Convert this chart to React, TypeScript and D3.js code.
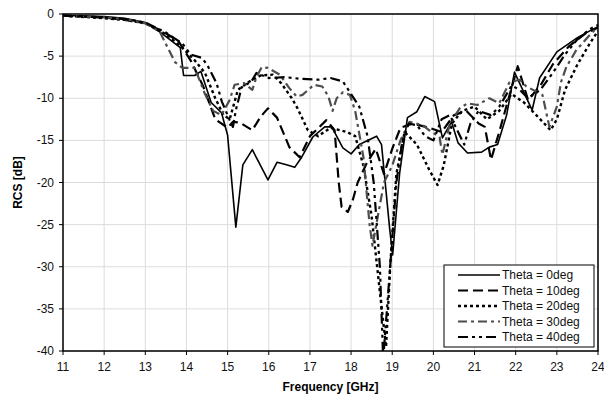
import React from "react";
import * as d3 from "d3";

type P = [number, number];

const xTicks = [11, 12, 13, 14, 15, 16, 17, 18, 19, 20, 21, 22, 23, 24];
const yTicks = [0, -5, -10, -15, -20, -25, -30, -35, -40];

const theta0: P[] = [[11,-0.2],[11.5,-0.2],[12,-0.3],[12.5,-0.5],[13,-1.0],[13.4,-2.3],[13.85,-4],[13.93,-7.3],[14.2,-7.3],[14.35,-6.8],[14.6,-10.5],[14.85,-11.7],[15.0,-14.4],[15.2,-25.3],[15.37,-17.9],[15.6,-16.1],[15.98,-19.7],[16.2,-17.6],[16.43,-17.9],[16.63,-18.2],[16.8,-17],[17.07,-14.6],[17.36,-13.4],[17.53,-13.4],[17.8,-15.9],[18.0,-16.6],[18.2,-15.5],[18.62,-14.5],[18.74,-15.5],[18.94,-25.6],[19.01,-28.6],[19.18,-18.9],[19.37,-12.3],[19.6,-11.6],[19.79,-9.8],[20.03,-10.4],[20.22,-14.7],[20.44,-12.8],[20.6,-15.3],[20.83,-16.5],[21.17,-16.4],[21.36,-15.8],[21.56,-15.5],[21.78,-12],[21.97,-6.9],[22.4,-11.4],[22.58,-7.6],[23,-4.5],[23.5,-2.8],[23.8,-2],[24,-1.5]];

const theta10: P[] = [[11,-0.2],[12,-0.4],[12.5,-0.7],[13,-1.1],[13.4,-2.0],[13.8,-3.2],[14.1,-5.5],[14.4,-8.5],[14.7,-12.5],[15.0,-13.5],[15.13,-12.8],[15.3,-12.9],[15.6,-13.8],[15.8,-12.2],[15.98,-11.2],[16.2,-12.3],[16.5,-15.8],[16.75,-17],[17.0,-14.5],[17.4,-12.6],[17.6,-13.8],[17.7,-20],[17.77,-22.9],[17.92,-23.5],[18.04,-22.1],[18.16,-20],[18.38,-17.7],[18.6,-16],[18.8,-19],[19.0,-16],[19.2,-13.5],[19.5,-13],[19.9,-13.5],[20.2,-14],[20.5,-12],[20.8,-11.5],[21.1,-13],[21.25,-13.4],[21.4,-17.3],[21.6,-14],[21.8,-10.5],[22.05,-6.2],[22.3,-10.2],[22.6,-8.5],[22.9,-6],[23.3,-3.8],[23.7,-2.3],[24,-1.6]];

const theta20: P[] = [[11,-0.2],[12,-0.5],[12.5,-0.7],[13,-1.1],[13.5,-2.4],[13.9,-4],[14.2,-5.5],[14.45,-7],[14.7,-10],[14.9,-12],[15.05,-12.5],[15.25,-9],[15.5,-8.1],[15.8,-7.3],[16.1,-7.2],[16.3,-8.2],[16.56,-10],[16.7,-11.2],[16.95,-13.8],[17.2,-14.5],[17.5,-13.5],[17.9,-14],[18.1,-14.5],[18.3,-18],[18.5,-24],[18.7,-33],[18.85,-39.5],[18.95,-30],[19.1,-19],[19.3,-14],[19.6,-15.5],[19.9,-18.5],[20.1,-20.3],[20.25,-18],[20.45,-13],[20.7,-11.5],[21.0,-11],[21.3,-12.5],[21.6,-11.5],[21.9,-9.5],[22.2,-10.5],[22.5,-12],[22.85,-13.8],[23.0,-12.5],[23.2,-9],[23.5,-6],[23.8,-3.5],[24,-2]];

const theta30: P[] = [[11,-0.2],[12,-0.4],[12.5,-0.6],[13,-1.1],[13.35,-2.1],[13.72,-5.7],[13.9,-6.4],[14.2,-6.4],[14.45,-9.5],[14.65,-11.5],[14.85,-12],[15.05,-10.2],[15.17,-8.4],[15.4,-8.2],[15.6,-9],[15.7,-7.5],[15.83,-6.3],[15.98,-6.4],[16.27,-7.2],[16.5,-8.8],[16.68,-9.8],[16.82,-9.6],[17.1,-8.4],[17.3,-8.6],[17.45,-9.8],[17.55,-11.5],[17.65,-10],[17.8,-9.3],[17.97,-9.6],[18.1,-11.5],[18.3,-17],[18.45,-25],[18.52,-27.5],[18.65,-24],[18.8,-20],[19.0,-18],[19.2,-15],[19.42,-12.8],[19.74,-13.2],[19.9,-13.8],[20.15,-14.6],[20.22,-16.7],[20.4,-13],[20.64,-11.2],[20.83,-10.6],[21.07,-10.8],[21.36,-10],[21.6,-10.6],[21.85,-8.1],[22.1,-7.8],[22.26,-8.6],[22.65,-9.6],[22.77,-12.3],[22.82,-13.4],[23.0,-11],[23.1,-8.1],[23.23,-6.3],[23.47,-4.3],[23.8,-2.5],[24,-1.5]];

const theta40: P[] = [[11,-0.2],[12,-0.4],[12.5,-0.6],[13,-1],[13.5,-2.2],[13.9,-3.5],[14.1,-4.8],[14.37,-5.2],[14.5,-6],[14.73,-8.2],[14.86,-10.4],[15.05,-12.6],[15.13,-13.4],[15.2,-11.4],[15.34,-8.7],[15.58,-8],[15.7,-7],[16.0,-7.6],[16.4,-7.5],[16.8,-7.7],[17.2,-7.8],[17.5,-7.6],[17.8,-8],[18.0,-9.5],[18.2,-11],[18.4,-14.5],[18.55,-20],[18.7,-30],[18.78,-41],[18.95,-30],[19.1,-20],[19.25,-15],[19.4,-13],[19.6,-13.2],[19.8,-14.5],[20.0,-15],[20.2,-12.5],[20.4,-12],[20.6,-14],[20.75,-15.5],[20.9,-13],[21.1,-11.5],[21.4,-12],[21.6,-11],[21.9,-8.5],[22.1,-9],[22.3,-10],[22.6,-9],[22.9,-7],[23.2,-4.8],[23.5,-3],[23.8,-1.8],[24,-1.3]];

const seriesNames = ["Theta = 0deg", "Theta = 10deg", "Theta = 20deg", "Theta = 30deg", "Theta = 40deg"];
const seriesData = [theta0, theta10, theta20, theta30, theta40];
const styles = [
  { color: "#000", width: 1.6, dash: "" },
  { color: "#000", width: 2.2, dash: "10,5" },
  { color: "#000", width: 2.4, dash: "3,3" },
  { color: "#4d4d4d", width: 2.2, dash: "9,4,3,4" },
  { color: "#000", width: 2.2, dash: "10,4,3,4,3,4" },
];

export default function App() {
  const W = 604, H = 401;
  const L = 63, R = 598, T = 14, B = 351;
  const x = d3.scaleLinear().domain([11, 24]).range([L, R]);
  const y = d3.scaleLinear().domain([-40, 0]).range([B, T]);
  const line = d3.line<P>().x(d => x(d[0])).y(d => y(d[1]));
  const font = "'Liberation Sans', Arial, sans-serif";
  const lx = 444, ly = 265, lw = 150, lh = 82;
  return (
    <svg width={W} height={H} style={{ position: "absolute", left: 0, top: 0, background: "#fff" }} fontFamily={font}>
      <defs>
        <clipPath id="plot"><rect x={L} y={T} width={R - L} height={B - T} /></clipPath>
      </defs>
      <rect x={0} y={0} width={W} height={H} fill="#fff" />
      {xTicks.map(t => <line key={"gx" + t} x1={x(t)} x2={x(t)} y1={T} y2={B} stroke="#dcdcdc" strokeWidth={1} />)}
      {yTicks.map(t => <line key={"gy" + t} x1={L} x2={R} y1={y(t)} y2={y(t)} stroke="#dcdcdc" strokeWidth={1} />)}
      <g clipPath="url(#plot)">
        {seriesData.map((s, i) => (
          <path key={i} d={line(s) || ""} fill="none" stroke={styles[i].color} strokeWidth={styles[i].width}
            strokeDasharray={styles[i].dash || undefined} strokeLinejoin="round" />
        ))}
      </g>
      <rect x={L} y={T} width={R - L} height={B - T} fill="none" stroke="#000" strokeWidth={1.5} />
      {xTicks.map(t => (
        <g key={"xt" + t}>
          <line x1={x(t)} x2={x(t)} y1={B} y2={B + 4} stroke="#000" />
          <text x={x(t)} y={B + 20} fontSize={12} textAnchor="middle" fill="#111">{t}</text>
        </g>
      ))}
      {yTicks.map(t => (
        <g key={"yt" + t}>
          <line x1={L - 4} x2={L} y1={y(t)} y2={y(t)} stroke="#000" />
          <text x={L - 9} y={y(t) + 4} fontSize={12} textAnchor="end" fill="#111">{t}</text>
        </g>
      ))}
      <text x={(L + R) / 2} y={391} fontSize={12} fontWeight="bold" textAnchor="middle">Frequency [GHz]</text>
      <text transform={`translate(22,${(T + B) / 2}) rotate(-90)`} fontSize={12} fontWeight="bold" textAnchor="middle">RCS [dB]</text>
      <rect x={lx} y={ly} width={lw} height={lh} fill="#fff" stroke="#000" strokeWidth={1} />
      {seriesNames.map((n, i) => {
        const yy = ly + 10 + i * 15.5;
        return (
          <g key={"lg" + i}>
            <line x1={458} x2={500} y1={yy} y2={yy} stroke={styles[i].color} strokeWidth={styles[i].width}
              strokeDasharray={styles[i].dash || undefined} />
            <text x={502} y={yy + 4} fontSize={12} fill="#111">{n}</text>
          </g>
        );
      })}
    </svg>
  );
}
